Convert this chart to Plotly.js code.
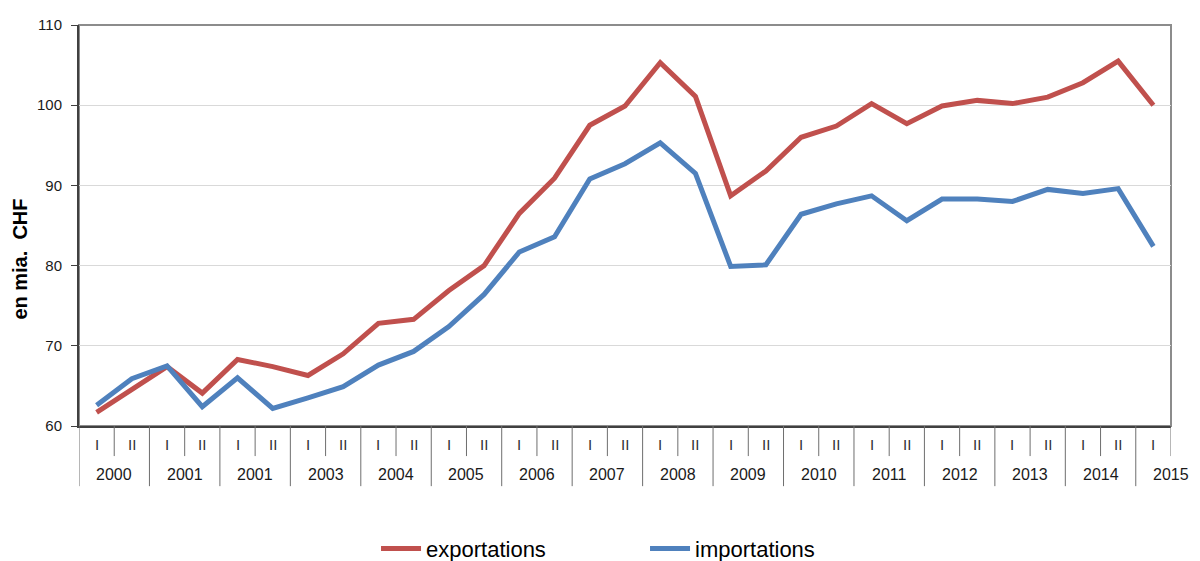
<!DOCTYPE html>
<html>
<head>
<meta charset="utf-8">
<script src="https://cdn.plot.ly/plotly-3.0.1.min.js"></script>
<style>
  html, body { margin: 0; padding: 0; background: #fff; }
  #chart { width: 1200px; height: 561px; }
</style>
</head>
<body>
<div id="chart"></div>
<script>
// Group labels under the axis (the source repeats "2001" for 2002)
const yearLabels = ['2000', '2001', '2001', '2003', '2004', '2005', '2006', '2007',
                    '2008', '2009', '2010', '2011', '2012', '2013', '2014', '2015'];
const halfLabels = ['I', 'II'];

// Semi-annual values, en mia. CHF (2000 I ... 2015 I)
const exportations = [61.7, 64.6, 67.4, 64.1, 68.3, 67.4, 66.3, 69.0, 72.8, 73.3,
                      76.9, 80.0, 86.5, 90.9, 97.5, 99.9, 105.3, 101.1, 88.7, 91.8,
                      96.0, 97.4, 100.2, 97.7, 99.9, 100.6, 100.2, 101.0, 102.8, 105.5,
                      100.0];
const importations = [62.6, 65.9, 67.5, 62.4, 66.0, 62.2, 63.5, 64.9, 67.6, 69.3,
                      72.4, 76.4, 81.7, 83.6, 90.8, 92.7, 95.3, 91.5, 79.9, 80.1,
                      86.4, 87.7, 88.7, 85.6, 88.3, 88.3, 88.0, 89.5, 89.0, 89.6,
                      82.4];

const FONT = 'Liberation Sans, Arial, sans-serif';
const n = exportations.length;
const idx = exportations.map((_, i) => i);

const traces = [
  {
    x: idx, y: exportations,
    mode: 'lines', name: 'exportations',
    line: { color: '#c0504d', width: 5 },
  },
  {
    x: idx, y: importations,
    mode: 'lines', name: 'importations',
    line: { color: '#4f81bd', width: 5 },
  },
];

// Two-level category axis drawn by hand: I / II row, year row, separators
const annotations = [];
const shapes = [
  // grey frame on top / right
  { type: 'rect', xref: 'paper', yref: 'paper', x0: 0, x1: 1, y0: 0, y1: 1,
    line: { color: '#8c8c8c', width: 2 }, layer: 'below' },
];

idx.forEach(i => {
  annotations.push({
    x: i, xref: 'x', y: -0.047, yref: 'paper', yanchor: 'middle',
    text: halfLabels[i % 2], showarrow: false,
    font: { family: FONT, size: 15, color: '#333' },
  });
});
yearLabels.forEach((yr, g) => {
  annotations.push({
    x: g * 2 + 0.5, xref: 'x', y: -0.122, yref: 'paper', yanchor: 'middle',
    text: yr, showarrow: false,
    font: { family: FONT, size: 16, color: '#1a1a1a' },
  });
});
for (let k = 0; k <= n; k++) {
  const xb = k - 0.5;
  const isYear = k % 2 === 0 && k < n;
  shapes.push({
    type: 'line', xref: 'x', yref: 'paper',
    x0: xb, x1: xb, y0: 0, y1: isYear ? -0.15 : -0.075,
    line: { color: '#6e6e6e', width: 1 },
  });
}

// y-axis title
annotations.push({
  x: -0.054, xref: 'paper', xanchor: 'center',
  y: 0.415, yref: 'paper', yanchor: 'middle',
  text: 'en mia.  CHF', textangle: -90, showarrow: false,
  font: { family: FONT, size: 20, color: '#000', weight: 'bold' },
});

const layout = {
  width: 1200, height: 561,
  margin: { l: 79, r: 29, t: 25, b: 135, autoexpand: false },
  paper_bgcolor: '#fff', plot_bgcolor: '#fff',
  font: { family: FONT, size: 15, color: '#1a1a1a' },
  showlegend: true,
  legend: {
    orientation: 'h', x: 0.272, xanchor: 'left', y: -0.306, yanchor: 'middle',
    font: { family: FONT, size: 22, color: '#000' },
    itemwidth: 40, entrywidth: 214,
    bgcolor: 'rgba(0,0,0,0)',
  },
  hovermode: false,
  xaxis: {
    type: 'linear', range: [-0.5, n - 0.5],
    showgrid: false, zeroline: false,
    showticklabels: false, ticks: '',
    showline: true, linecolor: '#404040', linewidth: 2,
  },
  yaxis: {
    range: [60, 110], dtick: 10,
    showgrid: true, gridcolor: '#d9d9d9', gridwidth: 1,
    zeroline: false,
    showline: true, linecolor: '#404040', linewidth: 2,
    ticks: 'outside', ticklen: 6, tickcolor: '#404040',
    ticklabelstandoff: 6,
    tickfont: { family: FONT, size: 15, color: '#1a1a1a' },
  },
  annotations,
  shapes,
};

Plotly.newPlot('chart', traces, layout, { staticPlot: true, displayModeBar: false });
</script>
</body>
</html>
